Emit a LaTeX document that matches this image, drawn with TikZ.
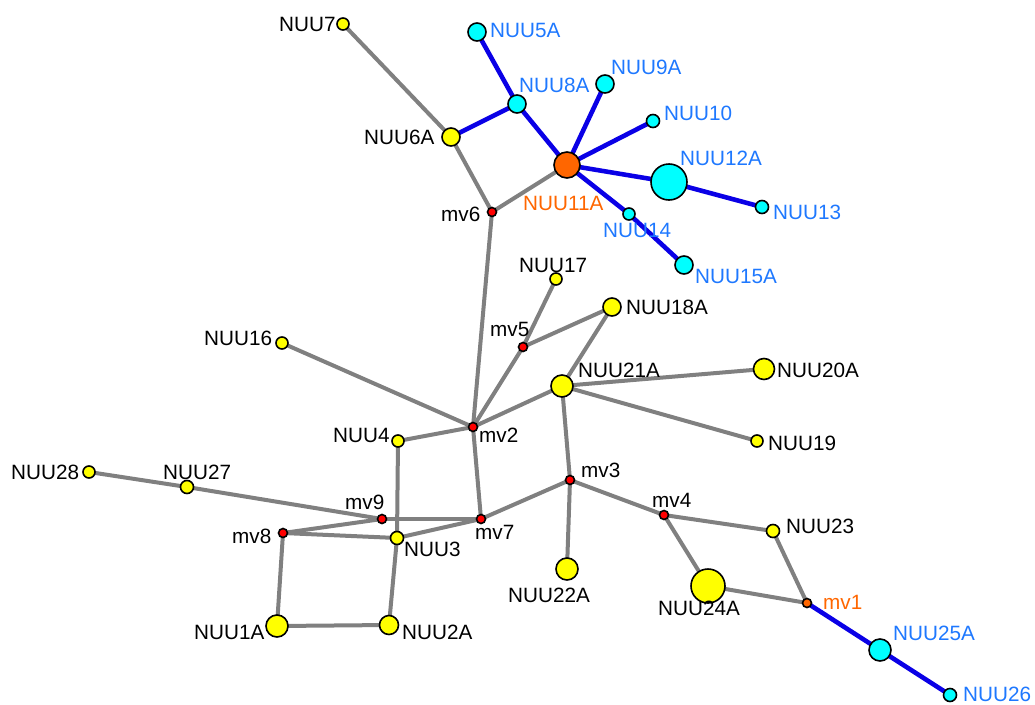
\documentclass[tikz,border=0pt]{standalone}
\usepackage{fontspec}
\setmainfont{Liberation Sans}
\usetikzlibrary{backgrounds}
\definecolor{egray}{RGB}{128,128,128}
\definecolor{eblue}{RGB}{10,0,230}
\definecolor{lblue}{RGB}{30,120,255}
\definecolor{lorange}{RGB}{255,102,0}
\definecolor{ncyan}{RGB}{0,255,255}
\definecolor{nyellow}{RGB}{255,255,0}
\definecolor{nred}{RGB}{255,0,0}
\tikzset{
  vtx/.style={circle,draw=black,line width=1.6pt,inner sep=0pt,minimum size=#1},
  yv/.style={vtx=#1,fill=nyellow},
  cv/.style={vtx=#1,fill=ncyan},
  rv/.style={vtx=9pt,fill=nred},
  ov/.style={vtx=#1,fill=lorange},
  lab/.style={anchor=west,inner sep=0pt,font=\fontsize{20.7}{24}\selectfont},
  bl/.style={lab,text=lblue},
  ol/.style={lab,text=lorange},
  ge/.style={draw=egray,line width=4pt},
  be/.style={draw=eblue,line width=4.6pt}
}
\begin{document}
\begin{tikzpicture}[x=1pt,y=-1pt]
\useasboundingbox (0,0) rectangle (1035,704);
% vertices
\node[yv=12pt] (NUU7) at (343,24) {};
\node[cv=18pt] (NUU5A) at (477,32) {};
\node[cv=18pt] (NUU8A) at (517,104) {};
\node[cv=18pt] (NUU9A) at (605,84) {};
\node[cv=13pt] (NUU10) at (653,121) {};
\node[yv=18pt] (NUU6A) at (451,137) {};
\node[ov=26pt] (NUU11A) at (567,165) {};
\node[cv=36pt] (NUU12A) at (669,182) {};
\node[cv=13pt] (NUU13) at (762,207) {};
\node[rv] (mv6) at (492,212) {};
\node[cv=12pt] (NUU14) at (629,214) {};
\node[cv=18pt] (NUU15A) at (684,265) {};
\node[yv=12pt] (NUU17) at (556,279) {};
\node[yv=18pt] (NUU18A) at (612,307) {};
\node[rv] (mv5) at (523,347) {};
\node[yv=12pt] (NUU16) at (282,343) {};
\node[yv=22pt] (NUU21A) at (562,386) {};
\node[yv=21pt] (NUU20A) at (764,369) {};
\node[rv] (mv2) at (473,427) {};
\node[yv=12pt] (NUU4) at (398,441) {};
\node[yv=12pt] (NUU19) at (757,441) {};
\node[yv=12pt] (NUU28) at (89,472) {};
\node[yv=13pt] (NUU27) at (187,487) {};
\node[rv] (mv3) at (570,480) {};
\node[rv] (mv4) at (664,515) {};
\node[rv] (mv9) at (382,519) {};
\node[rv] (mv8) at (283,533) {};
\node[rv] (mv7) at (481,519) {};
\node[yv=13pt] (NUU23) at (773,531) {};
\node[yv=13pt] (NUU3) at (397,538) {};
\node[yv=22pt] (NUU22A) at (567,569) {};
\node[yv=34pt] (NUU24A) at (708,586) {};
\node[ov=9pt] (mv1) at (807,603) {};
\node[yv=22pt] (NUU1A) at (277,626) {};
\node[yv=19pt] (NUU2A) at (389,625) {};
\node[cv=22pt] (NUU25A) at (880,650) {};
\node[cv=13pt] (NUU26) at (950,695) {};
% edges behind vertices
\begin{scope}[on background layer]
\draw[ge] (NUU7.center) -- (NUU6A.center);
\draw[ge] (NUU6A.center) -- (mv6.center);
\draw[ge] (mv6.center) -- (NUU11A.center);
\draw[ge] (mv6.center) -- (mv2.center);
\draw[ge] (NUU17.center) -- (mv5.center);
\draw[ge] (mv5.center) -- (mv2.center);
\draw[ge] (mv5.center) -- (NUU18A.center);
\draw[ge] (NUU18A.center) -- (NUU21A.center);
\draw[ge] (NUU16.center) -- (mv2.center);
\draw[ge] (NUU21A.center) -- (mv2.center);
\draw[ge] (NUU21A.center) -- (NUU20A.center);
\draw[ge] (NUU21A.center) -- (NUU19.center);
\draw[ge] (NUU21A.center) -- (mv3.center);
\draw[ge] (mv2.center) -- (NUU4.center);
\draw[ge] (mv2.center) -- (mv7.center);
\draw[ge] (NUU4.center) -- (NUU3.center);
\draw[ge] (NUU28.center) -- (NUU27.center);
\draw[ge] (NUU27.center) -- (mv9.center);
\draw[ge] (mv9.center) -- (mv7.center);
\draw[ge] (mv9.center) -- (mv8.center);
\draw[ge] (mv8.center) -- (NUU3.center);
\draw[ge] (NUU3.center) -- (mv7.center);
\draw[ge] (mv7.center) -- (mv3.center);
\draw[ge] (mv3.center) -- (NUU22A.center);
\draw[ge] (mv3.center) -- (mv4.center);
\draw[ge] (mv4.center) -- (NUU23.center);
\draw[ge] (mv4.center) -- (NUU24A.center);
\draw[ge] (NUU23.center) -- (mv1.center);
\draw[ge] (NUU24A.center) -- (mv1.center);
\draw[ge] (mv8.center) -- (NUU1A.center);
\draw[ge] (NUU1A.center) -- (NUU2A.center);
\draw[ge] (NUU3.center) -- (NUU2A.center);
\draw[be] (NUU5A.center) -- (NUU8A.center);
\draw[be] (NUU8A.center) -- (NUU6A.center);
\draw[be] (NUU8A.center) -- (NUU11A.center);
\draw[be] (NUU11A.center) -- (NUU9A.center);
\draw[be] (NUU11A.center) -- (NUU10.center);
\draw[be] (NUU11A.center) -- (NUU12A.center);
\draw[be] (NUU12A.center) -- (NUU13.center);
\draw[be] (NUU11A.center) -- (NUU14.center);
\draw[be] (NUU14.center) -- (NUU15A.center);
\draw[be] (mv1.center) -- (NUU25A.center);
\draw[be] (NUU25A.center) -- (NUU26.center);
\end{scope}
% labels
\node[lab] (tNUU7) at (279,24) {NUU7};
\node[bl] (tNUU5A) at (490,30) {NUU5A};
\node[bl] (tNUU8A) at (519,85) {NUU8A};
\node[bl] (tNUU9A) at (611,67) {NUU9A};
\node[bl] (tNUU10) at (664,113) {NUU10};
\node[lab] (tNUU6A) at (364,137) {NUU6A};
\node[ol] (tNUU11A) at (523,203) {NUU11A};
\node[bl] (tNUU12A) at (680,158) {NUU12A};
\node[bl] (tNUU13) at (773,212) {NUU13};
\node[lab] (tmv6) at (441,214) {mv6};
\node[bl] (tNUU14) at (603,230) {NUU14};
\node[bl] (tNUU15A) at (695,276) {NUU15A};
\node[lab] (tNUU17) at (519,265) {NUU17};
\node[lab] (tNUU18A) at (626,307) {NUU18A};
\node[lab] (tmv5) at (490,329) {mv5};
\node[lab] (tNUU16) at (204,338) {NUU16};
\node[lab] (tNUU21A) at (578,370) {NUU21A};
\node[lab] (tNUU20A) at (777,370) {NUU20A};
\node[lab] (tNUU4) at (333,435) {NUU4};
\node[lab] (tmv2) at (479,435) {mv2};
\node[lab] (tNUU19) at (768,443) {NUU19};
\node[lab] (tNUU28) at (11,472) {NUU28};
\node[lab] (tNUU27) at (163,472) {NUU27};
\node[lab] (tmv3) at (581,470) {mv3};
\node[lab] (tmv4) at (652,500) {mv4};
\node[lab] (tmv9) at (345,502) {mv9};
\node[lab] (tmv8) at (232,536) {mv8};
\node[lab] (tmv7) at (475,532) {mv7};
\node[lab] (tNUU23) at (786,526) {NUU23};
\node[lab] (tNUU3) at (404,549) {NUU3};
\node[lab] (tNUU22A) at (508,595) {NUU22A};
\node[lab] (tNUU24A) at (658,608) {NUU24A};
\node[ol] (tmv1) at (823,602) {mv1};
\node[lab] (tNUU1A) at (194,632) {NUU1A};
\node[lab] (tNUU2A) at (402,632) {NUU2A};
\node[bl] (tNUU25A) at (893,633) {NUU25A};
\node[bl] (tNUU26) at (963,694) {NUU26};
\end{tikzpicture}
\end{document}
